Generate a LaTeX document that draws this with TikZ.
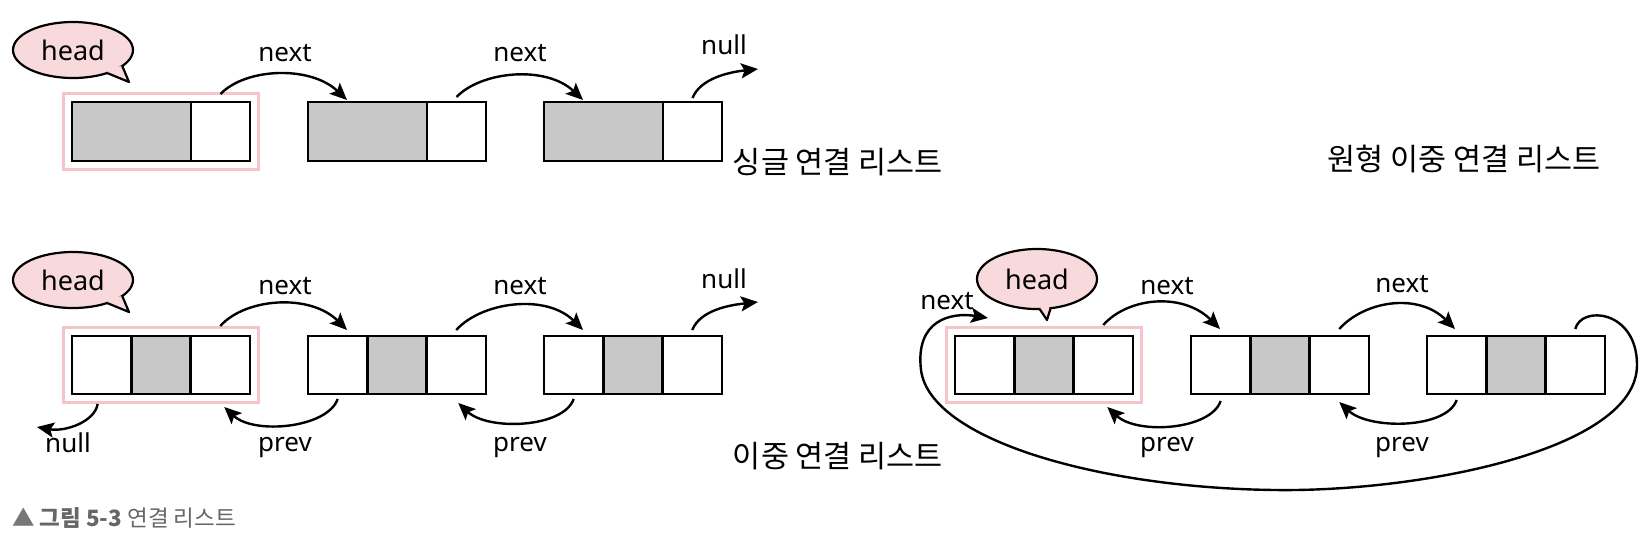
\documentclass[tikz,border=0pt]{standalone}
\usepackage{fontspec}
\setmainfont{Noto Sans}
\newfontfamily\krhand[WordSpace=2]{Noto Sans CJK KR}
\newfontfamily\krcap{Noto Sans CJK KR}
\usetikzlibrary{arrows.meta,calc,fit,shapes.geometric}
\definecolor{cellgray}{HTML}{C8C8C8}
\definecolor{hlpink}{HTML}{F4C4CA}
\definecolor{bubblepink}{HTML}{F9DADC}
\definecolor{capgray}{HTML}{666666}
\definecolor{capgraytri}{HTML}{777777}

\newcommand\sllnode[3]{%
  \node[cell, fill=cellgray, minimum width=119pt, minimum height=59pt] (#1d) at (#2,#3) {};
  \node[cell, minimum width=59pt, minimum height=59pt] (#1n) at (#1d.north east) {};}
\newcommand\dllnode[3]{%
  \node[cell, minimum width=59.3pt, minimum height=58pt] (#1p) at (#2,#3) {};
  \node[cell, fill=cellgray, minimum width=59.3pt, minimum height=58pt] (#1d) at (#1p.north east) {};
  \node[cell, minimum width=59.3pt, minimum height=58pt] (#1n) at (#1d.north east) {};}
\newcommand\linkarrow[4]{%
  \draw[arr] (#1) .. controls ($(#1)+(#3)$) and ($(#2)+(#4)$) .. (#2);}

\begin{document}
\begin{tikzpicture}[x=1pt, y=-1pt,
  cell/.style={draw=black, line width=2.8pt, inner sep=0pt, outer sep=0pt, anchor=north west},
  hl/.style={draw=hlpink, line width=3.2pt, inner sep=8.5pt},
  arr/.style={line width=2.4pt, -{Stealth[length=17pt,width=15pt,inset=3.5pt]}},
  lbl/.style={font=\fontsize{26}{30}\selectfont, inner sep=0pt, text depth=0pt},
  bubble/.style={ellipse, draw=black, fill=bubblepink, line width=2.2pt, outer sep=0pt,
    minimum width=120pt, minimum height=56pt, inner sep=0pt, font=\fontsize{27}{30}\selectfont},
  tailside/.style={draw=black, line width=2.2pt, line join=round},
  krlbl/.style={font=\krhand\fontsize{30.5}{34}\selectfont, inner sep=0pt}]
\path[use as bounding box] (0,0) rectangle (1646,550);

% ---------- single linked list ----------
\sllnode{s1}{72}{102}
\sllnode{s2}{308}{102}
\sllnode{s3}{544}{102}
\node[hl, fit=(s1d)(s1n)] (s1hl) {};

\coordinate (sa1) at ($(s1n.north)+(0,-8)$);
\coordinate (sb1) at ($(s2d.north west)+(39,-2)$);
\coordinate (sa2) at ($(s2n.north)+(0,-5)$);
\coordinate (sb2) at ($(s3d.north west)+(39,-2)$);
\coordinate (sa3) at ($(s3n.north)+(0,-4)$);
\coordinate (snull) at ($(s3n.north east)+(36,-33)$);
\linkarrow{sa1}{sb1}{25,-26}{-37,-35}
\linkarrow{sa2}{sb2}{25,-26}{-37,-35}
\linkarrow{sa3}{snull}{8,-20}{-28,3}
\node[lbl] (sl1) at (285,53) {next};
\node[lbl] (sl2) at (520,53) {next};
\node[lbl] (sl3) at (724,45) {null};

\node[bubble] (hb1) at (73,50) {head};
\fill[bubblepink] (hb1.-18) -- (129,82) -- (hb1.-34) -- ($(hb1.-26)!0.12!(hb1.center)$) -- cycle;
\draw[tailside] (hb1.-18) -- (129,82) -- (hb1.-34);

\node[krlbl] (st) at (838,162) {싱글 연결 리스트};

% ---------- doubly linked list ----------
\dllnode{d1}{72}{336}
\dllnode{d2}{308}{336}
\dllnode{d3}{544}{336}
\node[hl, fit=(d1p)(d1n)] (d1hl) {};

\coordinate (da1) at ($(d1n.north)+(0,-10)$);
\coordinate (db1) at ($(d2p.north west)+(39,-6)$);
\coordinate (da2) at ($(d2n.north)+(0,-6)$);
\coordinate (db2) at ($(d3p.north west)+(39,-6)$);
\coordinate (da3) at ($(d3n.north)+(0,-6)$);
\coordinate (dnull) at ($(d3n.north east)+(36,-34)$);
\coordinate (pa1) at ($(d2p.south)+(0,5)$);
\coordinate (pb1) at ($(d1n.south)+(4,13)$);
\coordinate (pa2) at ($(d3p.south)+(0,5)$);
\coordinate (pb2) at ($(d2n.south)+(2,9)$);
\coordinate (nl0) at ($(d1p.south)+(-4,10)$);
\coordinate (nlend) at ($(d1p.south west)+(-35,33)$);
\linkarrow{da1}{db1}{25,-28}{-37,-37}
\linkarrow{da2}{db2}{25,-28}{-37,-37}
\linkarrow{da3}{dnull}{8,-20}{-28,3}
\linkarrow{pa1}{pb1}{-10,29}{30,28}
\linkarrow{pa2}{pb2}{-10,29}{30,28}
\linkarrow{nl0}{nlend}{-3,18}{28,5}
\node[lbl] (dl1) at (285,286) {next};
\node[lbl] (dl2) at (520,286) {next};
\node[lbl] (dl3) at (724,279) {null};
\node[lbl] (dl4) at (68,443) {null};
\node[lbl] (dl5) at (285,444) {prev};
\node[lbl] (dl6) at (520,444) {prev};

\node[bubble] (hb2) at (73,280) {head};
\fill[bubblepink] (hb2.-18) -- (129,312) -- (hb2.-34) -- ($(hb2.-26)!0.12!(hb2.center)$) -- cycle;
\draw[tailside] (hb2.-18) -- (129,312) -- (hb2.-34);

\node[krlbl] (dt) at (838,456) {이중 연결 리스트};

% ---------- circular doubly linked list ----------
\dllnode{r1}{955}{336}
\dllnode{r2}{1191}{336}
\dllnode{r3}{1427}{336}
\node[hl, fit=(r1p)(r1n)] (r1hl) {};

\coordinate (ra1) at ($(r1n.north)+(0,-11)$);
\coordinate (rb1) at ($(r2p.north west)+(29,-7)$);
\coordinate (ra2) at ($(r2n.north)+(0,-7)$);
\coordinate (rb2) at ($(r3p.north west)+(28,-7)$);
\coordinate (rpa1) at ($(r2p.south)+(0,7)$);
\coordinate (rpb1) at ($(r1n.south)+(4,13)$);
\coordinate (rpa2) at ($(r3p.south)+(0,6)$);
\coordinate (rpb2) at ($(r2n.south)+(0,8)$);
\linkarrow{ra1}{rb1}{25,-28}{-37,-37}
\linkarrow{ra2}{rb2}{25,-28}{-37,-37}
\linkarrow{rpa1}{rpb1}{-10,29}{30,28}
\linkarrow{rpa2}{rpb2}{-10,29}{30,28}

\coordinate (la) at ($(r3n.north)+(0,-7)$);
\coordinate (lb) at ($(r1p.north west)+(33,-18)$);
\draw[arr] (la) .. controls ($(la)+(6,-24)$) and (1637,310) .. (1637,365)
  .. controls (1637,450) and (1420,492) .. (1275,490)
  .. controls (1100,488) and (930,440) .. (921,370)
  .. controls (915,320) and ($(lb)+(-37,-6)$) .. (lb);

\node[lbl] (rl0) at (947,301) {next};
\node[lbl] (rl1) at (1167,286) {next};
\node[lbl] (rl2) at (1402,284) {next};
\node[lbl] (rl3) at (1167,444) {prev};
\node[lbl] (rl4) at (1402,444) {prev};

\node[bubble, minimum height=60pt] (hb3) at (1037,279) {head};
\fill[bubblepink] (hb3.-65) -- (1047,320) -- (hb3.-85) -- ($(hb3.-75)!0.12!(hb3.center)$) -- cycle;
\draw[tailside] (hb3.-65) -- (1047,320) -- (hb3.-85);

\node[krlbl] (rt) at (1464,159) {원형 이중 연결 리스트};

% ---------- caption ----------
\node[anchor=west, inner sep=0pt, text=capgray, font=\krcap\fontsize{22.5}{26}\selectfont] (cap) at (12,518)
  {{\color{capgraytri}▲} \textbf{그림 5-3} 연결 리스트};
\end{tikzpicture}
\end{document}
